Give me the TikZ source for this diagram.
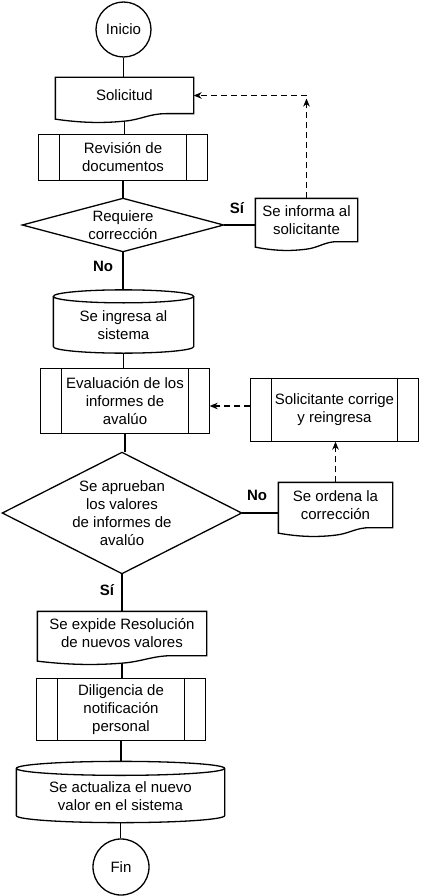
\documentclass[tikz,border=0pt]{standalone}
\usepackage{fontspec}
\setmainfont{Liberation Sans}
\usetikzlibrary{arrows.meta,calc}
\tikzset{
  base/.style={inner sep=0pt, align=center, font=\fontsize{15}{18}\selectfont},
  startstop/.style={base, circle, draw, minimum size=#1},
  predef/.style={base, rectangle},
  docnode/.style={base, rectangle},
  cylnode/.style={base, rectangle},
  decision/.style={base, rectangle},
  txt/.style={base},
  lab/.style={base, font=\fontsize{15}{18}\selectfont\bfseries},
  conn/.style={line width=1.2pt},
  dasharrow/.style={line width=1.2pt, dash pattern=on 6pt off 4pt, -{Stealth[length=8pt,width=6.5pt,inset=2.5pt]}}
}
\newcommand\preout[1]{%
  \draw (#1.north west) rectangle (#1.south east)
        ([xshift=21pt]#1.north west) -- ([xshift=21pt]#1.south west)
        ([xshift=-21pt]#1.north east) -- ([xshift=-21pt]#1.south east);}
\newcommand\docout[1]{%
  \draw let \p1=(#1.north west), \p2=(#1.south east), \n1={\x2-\x1} in
    (\x1,\y1) -- (\x2,\y1) -- (\x2,\y2) -- ({\x1+0.8*\n1},{\y2})
    .. controls ({\x1+0.68*\n1},{\y2}) and ({\x1+0.62*\n1},{\y2-6pt}) .. ({\x1+0.5*\n1},{\y2-7.5pt})
    .. controls ({\x1+0.35*\n1},{\y2-9.5pt}) and ({\x1+0.2*\n1},{\y2-9.5pt}) .. (\x1,{\y2-5.5pt}) -- cycle;}
\newcommand\cylout[2]{%
  \draw let \p1=(#1.north west), \p2=(#1.south east), \n1={(\x2-\x1)/2} in
    ({\x1+\n1},{\y1-#2}) ellipse [x radius=\n1, y radius=#2]
    (\x1,{\y1-#2}) -- (\x1,{\y2+#2}) arc [start angle=180, end angle=360, x radius=\n1, y radius=#2] -- (\x2,{\y1-#2});}
\newcommand\diamout[1]{\draw (#1.north) -- (#1.east) -- (#1.south) -- (#1.west) -- cycle;}
\begin{document}
\begin{tikzpicture}[x=1pt,y=-1pt,line width=1.3pt]
\useasboundingbox[fill=white] (0,0) rectangle (420,896);
% nodes
\node[startstop=55pt] (ini) at (123.5,29.5) {Inicio};
\node[docnode, minimum width=137pt, minimum height=35pt] (sol) at (124.5,95.5) {Solicitud};
\node[predef, minimum width=168pt, minimum height=45pt] (rev) at (123,157.5) {Revisión de\\documentos};
\node[decision, minimum width=200pt, minimum height=52pt] (req) at (123,225) {Requiere\\corrección};
\node[docnode, minimum width=101pt, minimum height=42pt] (inf) at (306.5,220) {Se informa al\\solicitante};
\node[cylnode, minimum width=139pt, minimum height=62pt] (ing) at (123.5,321.5) {};
\node[txt] (ingt) at (123.5,325) {Se ingresa al\\sistema};
\node[predef, minimum width=168pt, minimum height=64pt] (ev) at (125,401) {Evaluación de los\\informes de\\avalúo};
\node[predef, minimum width=167pt, minimum height=62pt] (sc) at (334.5,410) {Solicitante corrige\\y reingresa};
\node[decision, minimum width=238pt, minimum height=120pt] (apr) at (122,513) {Se aprueban\\los valores\\de informes de\\avalúo};
\node[docnode, minimum width=113pt, minimum height=44pt] (ord) at (335.5,505) {Se ordena la\\corrección};
\node[docnode, minimum width=168pt, minimum height=43pt] (exp) at (122,633.5) {Se expide Resolución\\de nuevos valores};
\node[predef, minimum width=168pt, minimum height=61pt] (dil) at (121,709.5) {Diligencia de\\notificación\\personal};
\node[cylnode, minimum width=207pt, minimum height=60pt] (act) at (120.5,792) {};
\node[txt] (actt) at (120.5,796.5) {Se actualiza el nuevo\\valor en el sistema};
\node[startstop=56pt] (fin) at (121,867) {Fin};
% outlines
\preout{rev}\preout{ev}\preout{sc}\preout{dil}
\docout{sol}\docout{inf}\docout{ord}\docout{exp}
\cylout{ing}{6.5pt}\cylout{act}{7pt}
\diamout{req}\diamout{apr}
% labels
\node[lab] (si1) at (237,208) {Sí};
\node[lab] (no1) at (103,266) {No};
\node[lab] (no2) at (257,495) {No};
\node[lab] (si2) at (107,590) {Sí};
% connectors
\draw[conn] (ini.south) -- (ini.south |- sol.north);
\draw[conn] ([yshift=-7.5pt]sol.south) -- (sol.south |- rev.north);
\draw[conn] (rev.south) -- (rev.south |- req.north);
\draw[conn] (req.east) -- (req.east -| inf.west);
\draw[conn] (req.south) -- (req.south |- ing.north);
\draw[conn] (ing.south) -- (ing.south |- ev.north);
\draw[conn] (ev.south) -- (ev.south |- apr.north);
\draw[conn] (apr.east) -- (apr.east -| ord.west);
\draw[conn] (apr.south) -- (apr.south |- exp.north);
\draw[conn] ([yshift=-7.5pt]exp.south) -- (exp.south |- dil.north);
\draw[conn] (dil.south) -- (dil.south |- act.north);
\draw[conn] (act.south) -- (act.south |- fin.north);
\coordinate (corner) at (inf.north |- sol.east);
\draw[dasharrow, shorten >=3pt] (inf.north) -- (corner);
\draw[dasharrow] (corner) -- (sol.east);
\draw[dasharrow] (ord.north) -- (ord.north |- sc.south);
\draw[dasharrow] ([yshift=4pt]sc.west) -- ([yshift=4pt]sc.west -| ev.east);
\end{tikzpicture}
\end{document}
